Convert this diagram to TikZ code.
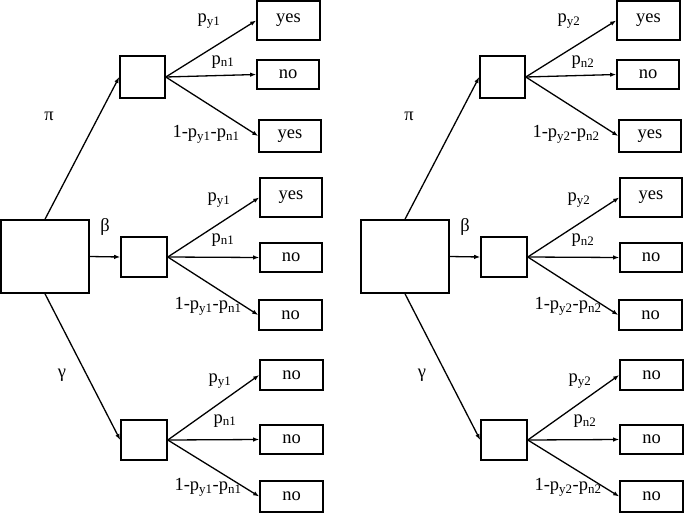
\documentclass[tikz,border=0pt]{standalone}
\usepackage{fontspec}
\setmainfont{Liberation Serif}
\newfontfamily\tmsfont{Liberation Serif}
\usetikzlibrary{arrows.meta}
\tikzset{
  box/.style={draw, line width=1.6pt, inner sep=0pt, font=\tmsfont\fontsize{18.5}{20}\selectfont},
  arr/.style={-{Latex[length=6pt,width=4.5pt]}, line width=1.3pt},
  lbl/.style={inner sep=0pt, font=\tmsfont\fontsize{18.5}{20}\selectfont}
}
\newcommand{\drawtree}[3]{%
\begin{scope}[xshift=#3]
  % root and middle boxes
  \node[box, minimum width=88pt, minimum height=73pt] (#1root) at (45,256.5) {};
  \node[box, minimum width=45pt, minimum height=42pt] (#1m1) at (142.5,77) {};
  \node[box, minimum width=46pt, minimum height=40pt] (#1m2) at (144,257) {};
  \node[box, minimum width=46pt, minimum height=40pt] (#1m3) at (144,440) {};
  % leaves
  \node[box, minimum width=63pt, minimum height=39pt] (#1a1) at (288.5,20.5) {yes};
  \node[box, minimum width=62pt, minimum height=29pt] (#1a2) at (288,74.5) {no};
  \node[box, minimum width=62pt, minimum height=32pt] (#1a3) at (290,136) {yes};
  \node[box, minimum width=62pt, minimum height=39pt] (#1b1) at (291,197.5) {yes};
  \node[box, minimum width=62pt, minimum height=29pt] (#1b2) at (291,257.5) {no};
  \node[box, minimum width=63pt, minimum height=30pt] (#1b3) at (290.5,315) {no};
  \node[box, minimum width=63pt, minimum height=30pt] (#1c1) at (291.5,375) {no};
  \node[box, minimum width=63pt, minimum height=29pt] (#1c2) at (291.5,439.5) {no};
  \node[box, minimum width=63pt, minimum height=31pt] (#1c3) at (291.5,496.5) {no};
  % connectors
  \draw[arr] (#1root.north) -- (#1m1.west);
  \draw[arr] (#1root.east) -- (#1m2.west);
  \draw[arr] (#1root.south) -- (#1m3.west);
  \foreach \m/\g in {m1/a, m2/b, m3/c}{
    \draw[arr] (#1\m.east) -- (#1\g1.west);
    \draw[arr] (#1\m.east) -- (#1\g2.west);
    \draw[arr] (#1\m.east) -- (#1\g3.west);
  }
  % labels
  \node[lbl] (#1pi) at (49,116) {π};
  \node[lbl] (#1beta) at (105,227) {β};
  \node[lbl] (#1gamma) at (62,375) {γ};
  \node[lbl] (#1la1) at (209,21) {p\textsubscript{y#2}};
  \node[lbl] (#1la2) at (223,62) {p\textsubscript{n#2}};
  \node[lbl] (#1la3) at (206,134) {1-p\textsubscript{y#2}-p\textsubscript{n#2}};
  \node[lbl] (#1lb1) at (219,200) {p\textsubscript{y#2}};
  \node[lbl] (#1lb2) at (223,240) {p\textsubscript{n#2}};
  \node[lbl] (#1lb3) at (208,306) {1-p\textsubscript{y#2}-p\textsubscript{n#2}};
  \node[lbl] (#1lc1) at (220,381) {p\textsubscript{y#2}};
  \node[lbl] (#1lc2) at (225,421) {p\textsubscript{n#2}};
  \node[lbl] (#1lc3) at (208,487) {1-p\textsubscript{y#2}-p\textsubscript{n#2}};
\end{scope}}
\begin{document}
\begin{tikzpicture}[x=1pt, y=-1pt]
  \useasboundingbox (0,0) rectangle (685,514);
  \drawtree{L}{1}{0pt}
  \drawtree{R}{2}{360pt}
\end{tikzpicture}
\end{document}
